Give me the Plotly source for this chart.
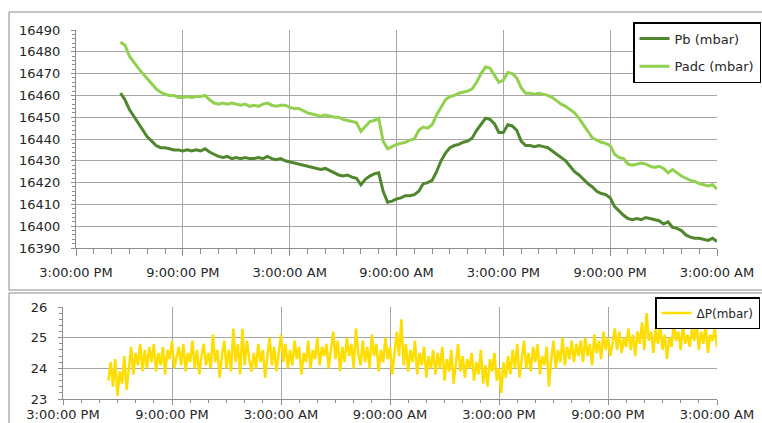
import plotly.graph_objects as go
import pandas as pd

# ---------------- data ----------------
START = pd.Timestamp("2012-06-01 15:00")   # 3:00:00 PM
AXIS_HOURS = 36

P_START_H = 2.5      # first sample, hours after 3 PM
P_STEP_H = 0.25
pb = [16461, 16458, 16453.5, 16450.5, 16447, 16444, 16441, 16439, 16437, 16436,
      16436, 16435.5, 16435, 16435, 16434.5, 16435, 16434.5, 16435, 16434.5, 16435.5,
      16434, 16433, 16432, 16431.5, 16432, 16431, 16431.5, 16431, 16431.5, 16431,
      16431, 16431.5, 16431, 16432, 16431, 16430.5, 16431, 16430, 16429.5, 16429,
      16428.5, 16428, 16427.5, 16427, 16426.5, 16426, 16426.5, 16425.5, 16424.5, 16423.5,
      16423, 16423.5, 16422.5, 16422, 16419, 16421.5, 16423, 16424, 16424.5, 16416,
      16411, 16411.5, 16412.5, 16413, 16414, 16414, 16414.5, 16416, 16419.5, 16420,
      16421, 16425, 16430, 16433.5, 16436, 16437, 16437.5, 16438.5, 16439, 16440.5,
      16444, 16447, 16449.5, 16449, 16447, 16443, 16443, 16446.5, 16446, 16444,
      16439, 16437, 16437, 16436.5, 16437, 16436.5, 16436, 16434.5, 16433, 16431.5,
      16430, 16427.5, 16425, 16423.5, 16421.5, 16419.5, 16418, 16416, 16415, 16414.5,
      16413, 16409, 16407, 16405, 16403.5, 16403, 16403.5, 16403, 16404, 16403.5,
      16403, 16402.5, 16401, 16402, 16399.5, 16399, 16398, 16396, 16395, 16394.5,
      16394.5, 16394, 16393.5, 16394.5, 16393]
padc = [16484.5, 16483, 16478, 16475, 16472.5, 16470, 16467.5, 16465.5, 16463, 16461.5,
        16460.5, 16460, 16460, 16459, 16459, 16459.5, 16459, 16459.5, 16459.5, 16460,
        16458, 16456.5, 16456, 16456.5, 16456, 16456.5, 16456, 16455.5, 16456, 16455,
        16455.5, 16455, 16456, 16456.5, 16455.5, 16455, 16455.5, 16455.5, 16454.5, 16454,
        16454, 16453, 16452, 16451.5, 16451, 16450.5, 16451, 16450.5, 16450, 16450,
        16449, 16448.5, 16448, 16447.5, 16443.5, 16446, 16448, 16448.5, 16449.5, 16439,
        16435.5, 16436.5, 16437.5, 16438, 16438.5, 16439.5, 16440, 16444, 16445.5, 16445,
        16446.5, 16451, 16454.5, 16458, 16459.5, 16460, 16461, 16461.5, 16462, 16463,
        16466, 16470, 16473, 16472.5, 16469.5, 16466, 16467, 16470.5, 16470, 16468,
        16463.5, 16461, 16461, 16460.5, 16461, 16460.5, 16460, 16459, 16457.5, 16456,
        16455, 16453.5, 16452, 16449.5, 16446.5, 16443, 16440.5, 16439.5, 16438.5, 16438,
        16437, 16433, 16431.5, 16431, 16428.5, 16428, 16428.5, 16429, 16428.5, 16427.5,
        16427, 16427.5, 16426.5, 16424.5, 16426, 16424.5, 16423, 16422, 16421, 16420.5,
        16419.5, 16419, 16418.5, 16419, 16417]

D_START_H = 2.5
D_STEP_H = 0.125
dp = [23.6, 24.2, 23.4, 24.3, 23.1, 23.9, 23.5, 24.4, 23.3, 24.0, 24.7, 23.8, 24.5, 24.1, 24.8, 23.9,
      24.6, 24.0, 24.7, 24.2, 24.8, 23.9, 24.5, 24.1, 24.7, 23.8, 24.6, 24.3, 24.9, 24.0, 24.4, 24.7,
      24.1, 24.8, 23.9, 24.5, 24.2, 24.9, 24.0, 24.6, 23.8, 24.4, 24.8, 24.1, 24.5, 24.0, 25.1, 24.2,
      24.6, 23.7, 24.4, 24.9, 24.0, 24.6, 23.9, 25.3, 24.2, 24.8, 23.8, 25.3, 24.1, 24.9, 24.3, 23.9,
      24.5, 24.0, 24.8, 24.2, 24.6, 23.7, 24.4, 25.0, 24.1, 24.7, 23.9, 24.5, 25.1, 24.2, 24.8, 24.0,
      24.6, 24.1, 24.9, 24.3, 24.7, 23.8, 24.5, 24.2, 24.9, 24.0, 24.6, 24.3, 25.0, 24.1, 24.7, 24.4,
      24.8, 24.0, 24.6, 25.2, 24.3, 24.9, 23.9, 24.7, 24.2, 25.0, 24.4, 24.8, 24.0, 25.3, 24.5, 24.1,
      24.9, 24.2, 24.7, 24.0, 25.1, 24.4, 24.8, 23.9, 24.6, 24.2, 25.0, 24.3, 24.7, 23.8, 24.5, 25.2,
      24.4, 25.6, 24.1, 24.8, 23.9, 24.6, 24.2, 24.9, 23.8, 24.5, 24.1, 24.7, 23.7, 24.4, 24.0, 24.6,
      23.8, 24.5, 24.0, 24.7, 23.6, 24.3, 23.9, 24.6, 23.5, 24.2, 24.8, 23.9, 24.4, 23.7, 24.3, 24.0,
      24.5, 23.6, 24.2, 23.8, 24.6, 23.5, 24.1, 23.4, 24.3, 23.9, 24.5, 23.6, 24.0, 23.2, 24.2, 23.7,
      24.4, 23.8, 24.6, 24.0, 24.8, 23.7, 24.3, 24.9, 24.0, 24.5, 23.9, 24.7, 24.2, 24.8, 23.8, 24.4,
      24.1, 24.7, 23.4, 24.3, 24.9, 24.0, 24.6, 24.2, 25.0, 24.1, 24.7, 24.3, 24.9, 24.2, 24.8, 24.4,
      24.9, 24.2, 25.0, 24.4, 24.8, 24.1, 25.1, 24.5, 24.9, 24.3, 25.2, 24.6, 25.0, 24.4, 24.8, 25.3,
      24.6, 25.2, 24.5, 25.0, 24.7, 25.3, 24.6, 25.1, 24.4, 25.2, 24.8, 25.5, 24.6, 25.8, 24.9, 25.2,
      24.5, 25.3, 24.8, 25.4, 24.6, 25.1, 24.3, 25.0, 24.7, 25.5, 24.9, 25.2, 24.6, 25.4, 24.8, 25.1,
      24.7, 25.3, 24.9, 25.5, 24.6, 25.2, 24.8, 25.4, 24.5, 25.1, 24.9, 25.3, 24.7]

# ---------------- build ----------------
def times(start_h, step_h, n):
    return [START + pd.Timedelta(hours=start_h + step_h * i) for i in range(n)]

tp = times(P_START_H, P_STEP_H, len(pb))
td = times(D_START_H, D_STEP_H, len(dp))
END = START + pd.Timedelta(hours=AXIS_HOURS)

W, H = 762, 423
def px(x): return x / W
def py(y): return 1 - y / H

FONT = dict(family="DejaVu Sans", size=13, color="#262626")
GRID = "#a6a6a6"
AX = "#8c8c8c"

fig = go.Figure()
fig.add_trace(go.Scatter(x=tp, y=pb, mode="lines", name="Pb (mbar)",
                         line=dict(color="#4f862e", width=3), legendgroup="a", legend="legend"))
fig.add_trace(go.Scatter(x=tp, y=padc, mode="lines", name="Padc (mbar)",
                         line=dict(color="#92d050", width=3), legendgroup="b", legend="legend"))
fig.add_trace(go.Scatter(x=td, y=dp, mode="lines", name="ΔP(mbar)",
                         line=dict(color="#ffdd00", width=2.5), xaxis="x2", yaxis="y2",
                         legend="legend2"))

def xaxis_cfg(major_len, minor_len, standoff):
    return dict(type="date", range=[START, END], tick0=START, dtick=6 * 3600 * 1000,
                tickformat="%-I:%M:%S %p", showgrid=True, gridcolor=GRID, gridwidth=1,
                showline=True, linecolor=AX, linewidth=1, ticks="outside", ticklen=major_len,
                tickcolor=AX, tickfont=FONT, zeroline=False, automargin=False,
                ticklabelstandoff=standoff,
                minor=dict(dtick=3600 * 1000, tick0=START, ticks="outside", ticklen=minor_len,
                           tickcolor=AX, showgrid=False))

ycommon = dict(showgrid=True, gridcolor=GRID, showline=True, linecolor=AX, ticks="outside",
               ticklen=4, tickcolor=AX, tickfont=FONT, zeroline=False, ticklabelstandoff=8,
               tickformat="d", automargin=False)

fig.update_layout(
    width=W, height=H, margin=dict(l=0, r=0, t=0, b=0, autoexpand=False),
    paper_bgcolor="white", plot_bgcolor="white", showlegend=True,
    xaxis=dict(domain=[px(76), px(717)], anchor="y", **xaxis_cfg(7, 5, 5)),
    yaxis=dict(domain=[py(248), py(30)], anchor="x", range=[16390, 16490], dtick=10,
               minor=dict(dtick=2, ticks="outside", ticklen=3, tickcolor=AX, showgrid=False),
               **ycommon),
    xaxis2=dict(domain=[px(63), px(717)], anchor="y2", **xaxis_cfg(5, 3, -2)),
    yaxis2=dict(domain=[py(399), py(307)], anchor="x2", range=[23, 26], dtick=1,
                minor=dict(dtick=0.2, ticks="outside", ticklen=3, tickcolor=AX, showgrid=False),
                **ycommon),
    legend=dict(x=px(761), y=py(22), xanchor="right", yanchor="top",
                bordercolor="black", borderwidth=1.5, bgcolor="white",
                font=FONT, traceorder="grouped", tracegroupgap=8),
    legend2=dict(x=px(760), y=py(297), xanchor="right", yanchor="top",
                 bordercolor="black", borderwidth=1.5, bgcolor="white",
                 font=dict(family="DejaVu Sans", size=12, color="#262626")),
    shapes=[
        dict(type="rect", xref="paper", yref="paper", x0=px(9), x1=1.02,
             y0=py(290), y1=py(12), line=dict(color="#8c8c8c", width=1), layer="below"),
        dict(type="rect", xref="paper", yref="paper", x0=px(9), x1=1.02,
             y0=-0.05, y1=py(293), line=dict(color="#8c8c8c", width=1), layer="below"),
    ],
)

fig.write_html("out.html", config={"displayModeBar": False},
               post_script="document.body.style.margin='0';document.body.style.overflow='hidden';")
